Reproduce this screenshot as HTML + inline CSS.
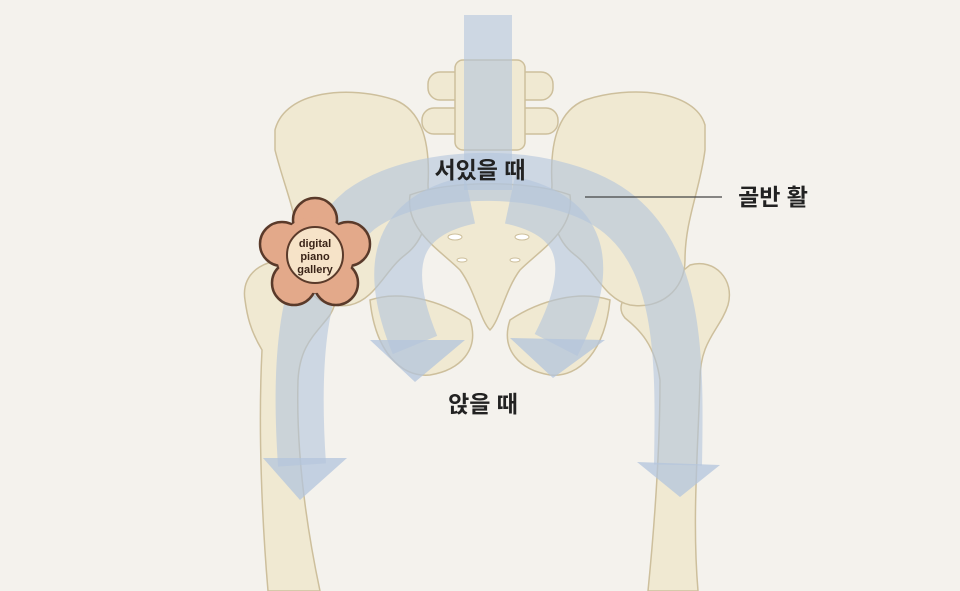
<!DOCTYPE html>
<html><head><meta charset="utf-8"><style>
html,body{margin:0;padding:0;background:#f4f2ed;}
svg{display:block}
text{font-family:"Liberation Sans","Noto Sans CJK KR",sans-serif;}
</style></head><body>
<svg width="960" height="591" viewBox="0 0 960 591" xmlns="http://www.w3.org/2000/svg">
<rect width="960" height="591" fill="#f4f2ed"/>
<g fill="#f0e9d2" stroke="#cdbf9c" stroke-width="1.5">
<path d="M245,300 C240,270 270,255 300,262 C330,270 345,290 330,315 C315,335 300,345 298,380 C296,450 305,520 320,591 L268,591 C262,520 258,430 262,350 C250,330 247,315 245,300Z"/>
<path d="M690,265 C715,258 735,280 728,305 C720,330 700,340 700,380 C698,450 692,520 698,591 L648,591 C655,520 660,450 660,380 C655,345 640,330 625,318 C610,300 640,280 665,285Z"/>
<path d="M275,130 C285,90 350,85 395,100 C425,112 430,150 428,185 C430,215 425,240 405,255 C385,270 375,300 350,305 C320,310 300,290 300,260 C300,220 285,190 275,150Z"/>
<path d="M705,125 C695,90 630,85 585,100 C555,112 550,150 552,185 C550,215 555,240 575,255 C595,270 605,300 630,305 C660,310 685,290 685,260 C685,220 700,190 705,150Z"/>
<path d="M410,195 C450,180 530,180 570,195 C575,230 540,250 520,270 C505,290 500,320 490,330 C480,320 475,290 460,270 C440,250 405,230 410,195Z"/>
<path d="M370,300 C400,290 440,300 470,320 C480,350 460,370 430,375 C400,378 375,350 370,300Z"/>
<path d="M610,300 C580,290 540,300 510,320 C500,350 520,370 550,375 C580,378 605,350 610,300Z"/>
<rect x="428" y="72" width="125" height="28" rx="12"/>
<rect x="422" y="108" width="136" height="26" rx="12"/>
<rect x="455" y="60" width="70" height="90" rx="8"/>
</g>
<g fill="#fff" stroke="#cdbf9c" stroke-width="1">
<ellipse cx="455" cy="237" rx="7" ry="3"/><ellipse cx="522" cy="237" rx="7" ry="3"/>
<ellipse cx="462" cy="260" rx="5" ry="2"/><ellipse cx="515" cy="260" rx="5" ry="2"/>
</g>
<g fill="none" stroke="#b3c4dc" stroke-opacity="0.6" stroke-width="48">
<path d="M488,15 L488,190"/>
<path d="M302,465 C295,360 300,260 360,210 C420,165 560,165 620,215 C680,265 680,360 678,465"/>
<path d="M470,200 C400,215 380,260 415,345"/>
<path d="M510,200 C580,215 600,260 556,345"/>
</g>
<g fill="#b3c4dc" fill-opacity="0.75">
<polygon points="263,458 347,458 300,500"/>
<polygon points="637,462 720,465 680,497"/>
<polygon points="370,340 465,340 415,382"/>
<polygon points="510,338 605,340 553,378"/>
</g>
<line x1="585" y1="197" x2="722" y2="197" stroke="#444" stroke-width="1.2"/>
<text x="480" y="178" font-size="23" font-weight="bold" text-anchor="middle" fill="#222">서있을 때</text>
<text x="773" y="205" font-size="23" font-weight="bold" text-anchor="middle" fill="#222">골반 활</text>
<text x="483" y="412" font-size="23" font-weight="bold" text-anchor="middle" fill="#222">앉을 때</text>
<g transform="translate(315,255)">
<g fill="#e3a98a" stroke="#5a3a2a" stroke-width="2.5">
<circle cx="0" cy="-35" r="22"/><circle cx="33" cy="-11" r="22"/><circle cx="21" cy="28" r="22"/><circle cx="-21" cy="28" r="22"/><circle cx="-33" cy="-11" r="22"/>
</g>
<circle cx="0" cy="0" r="38" fill="#e3a98a"/>
<circle cx="0" cy="0" r="28" fill="#f6e3c8" stroke="#5a3a2a" stroke-width="2"/>
<text x="0" y="-8" font-size="11" text-anchor="middle" fill="#3a2418" font-weight="bold">digital</text>
<text x="0" y="5" font-size="11" text-anchor="middle" fill="#3a2418" font-weight="bold">piano</text>
<text x="0" y="18" font-size="11" text-anchor="middle" fill="#3a2418" font-weight="bold">gallery</text>
</g>
</svg>
</body></html>
